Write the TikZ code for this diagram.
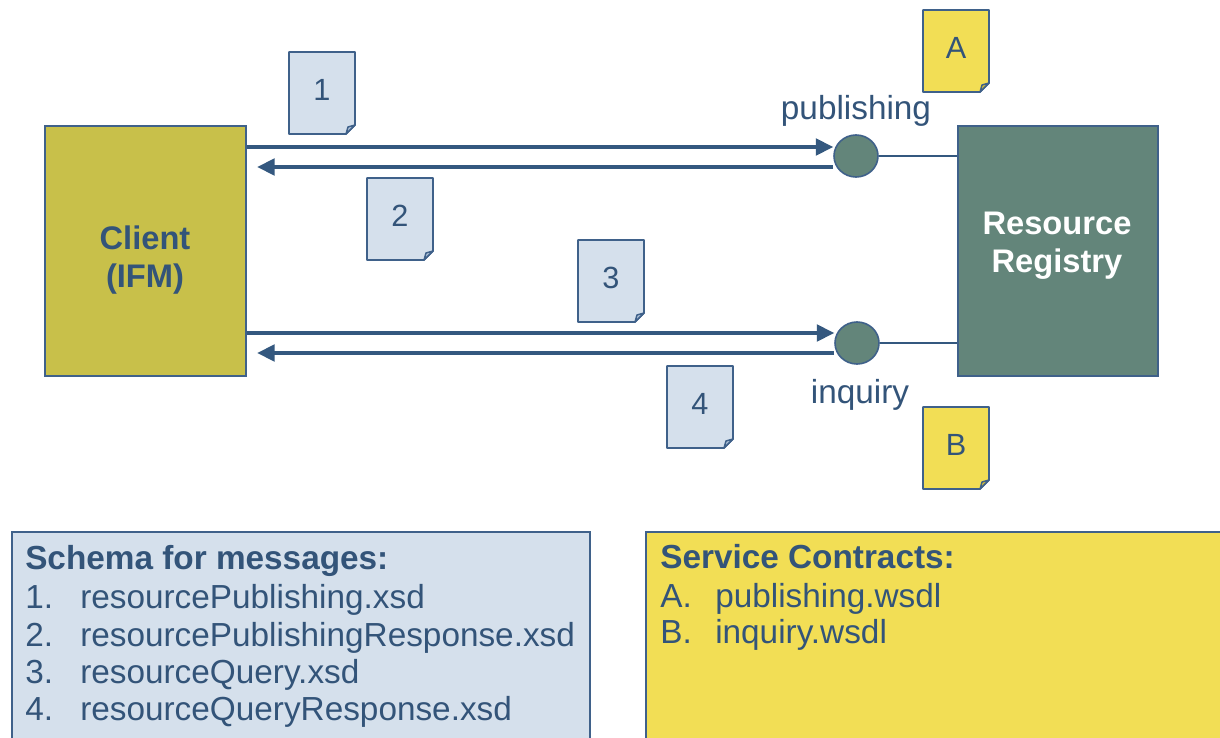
\documentclass[tikz,border=0pt]{standalone}
\usepackage{fontspec}
\setmainfont{Liberation Sans}
\usetikzlibrary{arrows.meta,calc,shapes.geometric}
\definecolor{txt}{HTML}{335479}
\definecolor{edge}{HTML}{3F618A}
\definecolor{arrc}{HTML}{34587F}
\definecolor{clientc}{HTML}{C8C04A}
\definecolor{regc}{HTML}{63857A}
\definecolor{docblue}{HTML}{D5E0EC}
\definecolor{docyellow}{HTML}{F2DE55}
\definecolor{foldblue}{HTML}{AFC2D8}
\definecolor{foldyellow}{HTML}{D2BE3C}
\newcommand{\docicon}[6]{%
  \filldraw[draw=edge, fill=#4, line width=1.3pt, line join=round]
    (#2-33,#3-41) -- (#2+33,#3-41) -- (#2+33,#3+32) -- (#2+24,#3+41) -- (#2-33,#3+41) -- cycle;
  \filldraw[draw=edge, fill=#5, line width=1.1pt, line join=round]
    (#2+24,#3+41) -- (#2+26,#3+34) -- (#2+33,#3+32) -- cycle;
  \node[doctext] (#1) at (#2,#3-3) {#6};}
\begin{document}
\begin{tikzpicture}[x=0.75pt,y=-0.75pt,
  lbl/.style={text=txt, font=\fontsize{25}{29}\selectfont, inner sep=0pt},
  boldlbl/.style={text=txt, font=\fontsize{25}{29}\selectfont\bfseries, inner sep=0pt},
  doctext/.style={text=txt, font=\fontsize{23}{27}\selectfont, inner sep=0pt},
  bigbox/.style={draw=edge, line width=1.2pt, anchor=north west, inner sep=0pt},
  port/.style={ellipse, draw=edge, fill=regc, line width=1.2pt, minimum width=33pt, minimum height=31.5pt, inner sep=0pt},
  arr/.style={draw=arrc, line width=2.3pt, -{Triangle[length=13pt, width=12.5pt]}},
  conn/.style={draw=arrc, line width=2pt}]
\path[use as bounding box, fill=white] (0,0) rectangle (1220,738);

% main boxes
\node[bigbox, fill=clientc, minimum width=150.75pt, minimum height=187.5pt] (client) at (44,125) {};
\node[bigbox, fill=regc, minimum width=150pt, minimum height=187.5pt] (reg) at (957,125) {};
\node[boldlbl, align=center, font=\fontsize{24.5}{28.5}\selectfont\bfseries] (clientlbl) at (145,260) {Client\\(IFM)};
\node[boldlbl, text=white, align=center, font=\fontsize{24.5}{28.5}\selectfont\bfseries] (reglbl) at (1057,246) {Resource\\Registry};

% ports
\node[port] (pub) at (856,156) {};
\node[port] (inq) at (857,343) {};
\node[lbl, anchor=base] (publbl) at (856,120) {publishing};
\node[lbl, anchor=base] (inqlbl) at (860,403) {inquiry};

% connectors
\draw[conn] (pub.east) -- (reg.west |- pub.east);
\draw[conn] (inq.east) -- (reg.west |- inq.east);
\draw[arr] (client.east |- 0,147) -- (pub.west |- 0,147);
\draw[arr, shorten >=8pt] (pub.west |- 0,167) -- (client.east |- 0,167);
\draw[arr] (client.east |- 0,333) -- (inq.west |- 0,333);
\draw[arr, shorten >=8pt] (inq.west |- 0,353) -- (client.east |- 0,353);

% documents
\docicon{d1}{322}{93}{docblue}{foldblue}{1}
\docicon{d2}{400}{219}{docblue}{foldblue}{2}
\docicon{d3}{611}{281}{docblue}{foldblue}{3}
\docicon{d4}{700}{407}{docblue}{foldblue}{4}
\docicon{dA}{956}{51}{docyellow}{foldyellow}{A}
\docicon{dB}{956}{448}{docyellow}{foldyellow}{B}

% bottom boxes
\node[bigbox, fill=docblue, minimum width=433.5pt, minimum height=160pt] (schema) at (11,531) {};
\node[bigbox, fill=docyellow, minimum width=435pt, minimum height=160pt] (contracts) at (645,531) {};

\node[boldlbl, anchor=base west] (st) at (25,569) {Schema for messages:};
\node[lbl, anchor=base west] (n1) at (25,608) {1.};
\node[lbl, anchor=base west] (t1) at (80,608) {resourcePublishing.xsd};
\node[lbl, anchor=base west] (n2) at (25,646) {2.};
\node[lbl, anchor=base west] (t2) at (80,646) {resourcePublishingResponse.xsd};
\node[lbl, anchor=base west] (n3) at (25,683) {3.};
\node[lbl, anchor=base west] (t3) at (80,683) {resourceQuery.xsd};
\node[lbl, anchor=base west] (n4) at (25,720) {4.};
\node[lbl, anchor=base west] (t4) at (80,720) {resourceQueryResponse.xsd};

\node[boldlbl, anchor=base west] (ct) at (660,568) {Service Contracts:};
\node[lbl, anchor=base west] (nA) at (660,607) {A.};
\node[lbl, anchor=base west] (tA) at (715,607) {publishing.wsdl};
\node[lbl, anchor=base west] (nB) at (660,643) {B.};
\node[lbl, anchor=base west] (tB) at (715,643) {inquiry.wsdl};
\end{tikzpicture}
\end{document}
